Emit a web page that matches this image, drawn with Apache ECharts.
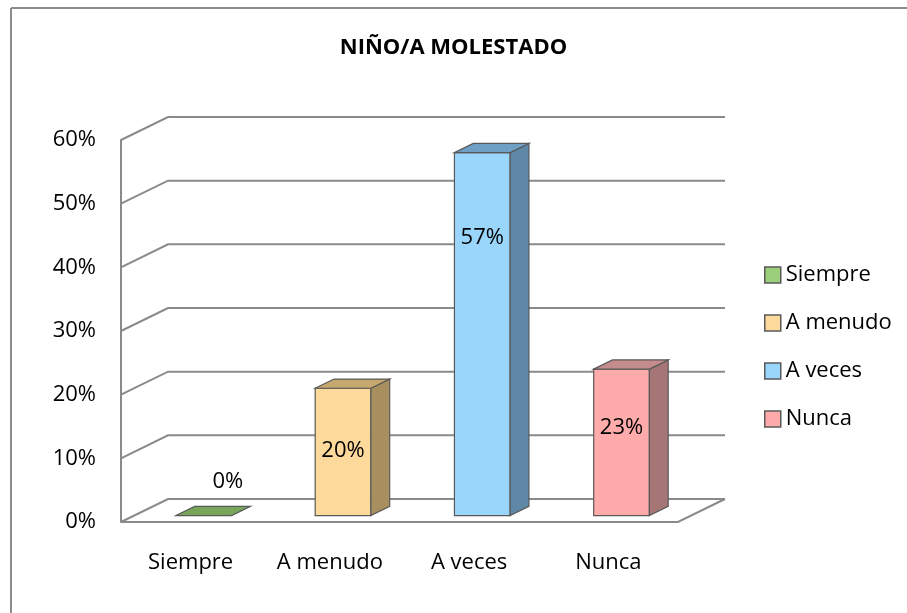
<!DOCTYPE html>
<html>
<head>
<meta charset="utf-8">
<script src="https://cdn.jsdelivr.net/npm/echarts@6/dist/echarts.min.js"></script>
<style>
  html, body { margin: 0; padding: 0; background: #fff; }
  #chart { width: 907px; height: 613px; }
</style>
</head>
<body>
<div id="chart"></div>
<script>
  // datos del gráfico
  const categories = ['Siempre', 'A menudo', 'A veces', 'Nunca'];
  const values = [0, 0.20, 0.57, 0.23];
  const yTicks = [0, 0.1, 0.2, 0.3, 0.4, 0.5, 0.6];

  // colores: frente, lado, tapa
  const FRONT = ['#9BCF7B', '#FDDA9B', '#9AD6FC', '#FFABAB'];
  const SIDE = ['#6E9450', '#A88F5E', '#5F88A6', '#A67676'];
  const TOP = ['#77A55A', '#C6A76E', '#6E9FC4', '#C48C8C'];
  const EDGE = '#595959';
  const GRID = '#8A8A8A';

  // profundidad del piso 3D (px) y posición de las barras dentro de ella
  const DX = 47, DY = -23;
  const D0 = 0.28, BD = 0.4;
  // desplazamiento de las etiquetas respecto a la tapa frontal
  const LABEL_DY = [-34, 63, 85, 59];
  const LABEL_DX = [24, 0, 0, 0];

  const font = 'Open Sans, sans-serif';
  const FS = 22;

  function gridItem(params, api) {
    const cs = params.coordSys;
    const v = api.value(1);
    const y = api.coord([0, v])[1];
    const left = cs.x, right = cs.x + cs.width;
    const st = { stroke: GRID, lineWidth: 2, fill: 'none' };
    const children = [
      { type: 'polyline', shape: { points: [[left, y], [left + DX, y + DY], [right + DX, y + DY]] }, style: st }
    ];
    if (v === 0) {
      children.push({ type: 'polyline', shape: { points: [[left, y], [right, y], [right + DX, y + DY]] }, style: st });
    }
    return { type: 'group', children: children };
  }

  function barItem(params, api) {
    const i = api.value(0), v = api.value(1);
    const top = api.coord([i, v]), base = api.coord([i, 0]);
    const band = api.size([1, 0])[0];
    const w = band * 0.4;
    const ox = DX * D0, oy = DY * D0;
    const bx = DX * BD, by = DY * BD;
    const x0 = top[0] - w / 2 + ox, x1 = x0 + w;
    const yt = top[1] + oy, yb = base[1] + oy;
    const line = { stroke: EDGE, lineWidth: 1.2 };
    const children = [];
    if (yb - yt > 0.5) {
      children.push({ type: 'rect', shape: { x: x0, y: yt, width: w, height: yb - yt }, style: Object.assign({ fill: FRONT[i] }, line) });
      children.push({ type: 'polygon', shape: { points: [[x1, yt], [x1 + bx, yt + by], [x1 + bx, yb + by], [x1, yb]] }, style: Object.assign({ fill: SIDE[i] }, line) });
    }
    children.push({ type: 'polygon', shape: { points: [[x0, yt], [x0 + bx, yt + by], [x1 + bx, yt + by], [x1, yt]] }, style: Object.assign({ fill: TOP[i] }, line) });
    children.push({
      type: 'text',
      style: {
        text: Math.round(v * 100) + '%',
        x: (x0 + x1) / 2 + LABEL_DX[i], y: yt + LABEL_DY[i],
        align: 'center', verticalAlign: 'middle',
        fontSize: FS, fontFamily: font, fill: '#000'
      }
    });
    return { type: 'group', children: children };
  }

  const chart = echarts.init(document.getElementById('chart'));

  const barSeries = categories.map((name, i) => ({
    type: 'custom',
    name: name,
    renderItem: barItem,
    itemStyle: { color: FRONT[i], borderColor: EDGE, borderWidth: 1 },
    data: [[i, values[i]]],
    z: 5,
    silent: true
  }));

  chart.setOption({
    animation: false,
    backgroundColor: '#fff',
    title: {
      text: 'NIÑO/A MOLESTADO',
      left: 'center', top: 32,
      textStyle: { fontFamily: font, fontSize: 22, fontWeight: 'bold', color: '#000' }
    },
    grid: { left: 121, right: 229, top: 140, bottom: 91 },
    xAxis: {
      type: 'category',
      data: categories,
      axisTick: { show: false },
      axisLine: { show: false },
      axisLabel: { margin: 30, fontSize: FS, fontFamily: font, color: '#000' }
    },
    yAxis: {
      type: 'value',
      min: 0, max: 0.6, interval: 0.1,
      splitLine: { show: false },
      axisTick: { show: false },
      axisLine: { show: true, lineStyle: { color: GRID, width: 2 } },
      axisLabel: {
        margin: 25, fontSize: FS, fontFamily: font, color: '#000',
        formatter: v => Math.round(v * 100) + '%'
      }
    },
    legend: {
      orient: 'vertical',
      left: 759, top: 258,
      itemWidth: 16, itemHeight: 16, itemGap: 24,
      icon: 'rect',
      data: categories.map((name, i) => ({
        name: name,
        itemStyle: { color: FRONT[i], borderColor: EDGE, borderWidth: 1.5 }
      })),
      textStyle: { fontFamily: font, fontSize: FS, color: '#000', lineHeight: 24 }
    },
    graphic: [
      { type: 'line', shape: { x1: 11, y1: 8, x2: 907, y2: 8 }, style: { stroke: '#8C8C8C', lineWidth: 2 } },
      { type: 'line', shape: { x1: 11, y1: 8, x2: 11, y2: 613 }, style: { stroke: '#8C8C8C', lineWidth: 2 } }
    ],
    series: [{
      type: 'custom',
      renderItem: gridItem,
      data: yTicks.map(v => [0, v]),
      z: 1,
      silent: true
    }].concat(barSeries)
  });
</script>
</body>
</html>
